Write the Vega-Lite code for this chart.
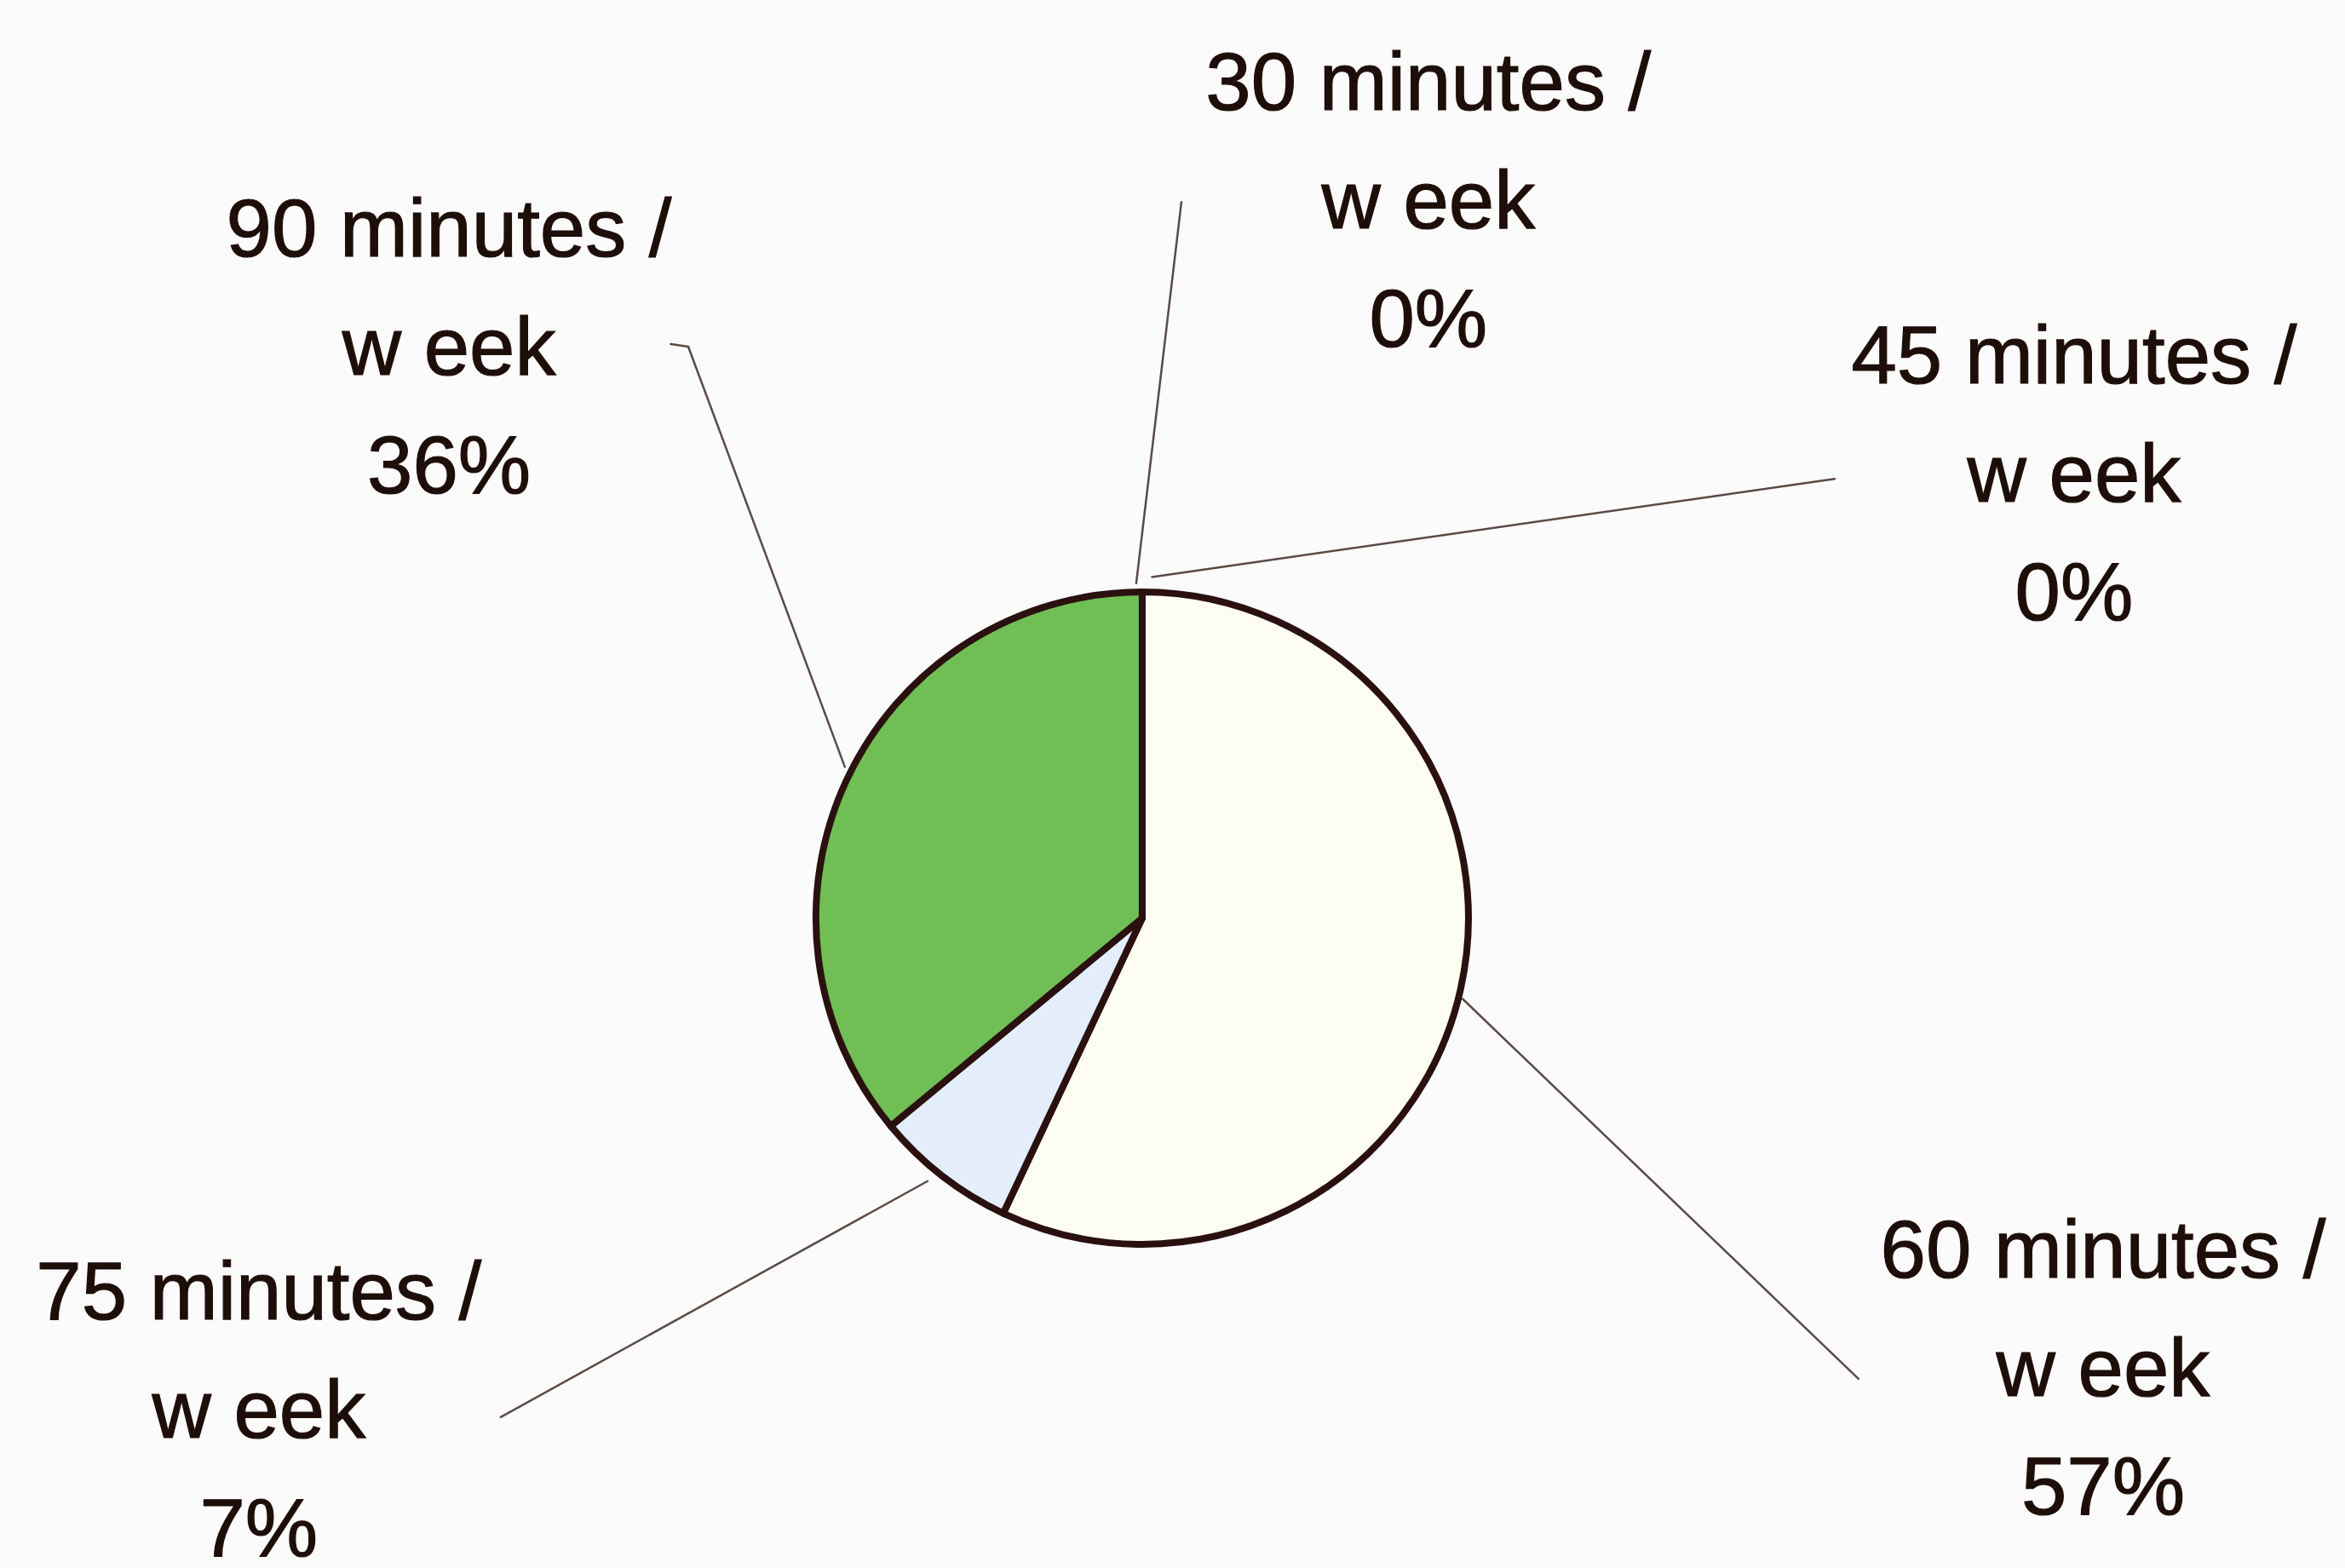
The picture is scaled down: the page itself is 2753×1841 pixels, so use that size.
{
  "$schema": "https://vega.github.io/schema/vega-lite/v6.json",
  "description": "Share of respondents by weekly exercise time, pie with callout labels.",
  "width": 2753,
  "height": 1841,
  "autosize": {"type": "none"},
  "padding": 0,
  "background": "#fbfbfb",
  "config": {"view": {"stroke": null}},
  "datasets": {
    "slices": [
      {"minutes": 30, "line1": "30 minutes /", "line2": "w eek", "pct": 0, "lx": 0.868, "ly": 2.527},
      {"minutes": 45, "line1": "45 minutes /", "line2": "w eek", "pct": 0, "lx": 2.827, "ly": 1.698},
      {"minutes": 60, "line1": "60 minutes /", "line2": "w eek", "pct": 57, "lx": 2.915, "ly": -1.016},
      {"minutes": 75, "line1": "75 minutes /", "line2": "w eek", "pct": 7, "lx": -2.68, "ly": -1.142},
      {"minutes": 90, "line1": "90 minutes /", "line2": "w eek", "pct": 36, "lx": -2.103, "ly": 2.083}
    ],
    "leaders": [
      {"minutes": 30, "x1": 0.119, "y1": 2.173, "x2": -0.018, "y2": 1.016},
      {"minutes": 45, "x1": 2.101, "y1": 1.333, "x2": 0.03, "y2": 1.035},
      {"minutes": 60, "x1": 0.972, "y1": -0.245, "x2": 2.173, "y2": -1.398},
      {"minutes": 75, "x1": -1.946, "y1": -1.514, "x2": -0.651, "y2": -0.798},
      {"minutes": 90, "x1": -1.377, "y1": 1.734, "x2": -0.902, "y2": 0.459},
      {"minutes": 90, "x1": -1.43, "y1": 1.742, "x2": -1.377, "y2": 1.734}
    ]
  },
  "layer": [
    {
      "data": {"name": "leaders"},
      "mark": {"type": "rule", "stroke": "#5b4a44", "strokeWidth": 2.5, "strokeCap": "round"},
      "encoding": {
        "x": {"field": "x1", "type": "quantitative", "scale": {"domain": [-3.465, 3.649], "nice": false, "zero": false}, "axis": null},
        "y": {"field": "y1", "type": "quantitative", "scale": {"domain": [-1.972, 2.786], "nice": false, "zero": false}, "axis": null},
        "x2": {"field": "x2"},
        "y2": {"field": "y2"}
      }
    },
    {
      "data": {"name": "slices"},
      "mark": {"type": "arc", "radius": 383, "stroke": "#2b1010", "strokeWidth": 8, "strokeJoin": "round"},
      "encoding": {
        "x": {"datum": 0, "type": "quantitative"},
        "y": {"datum": 0, "type": "quantitative"},
        "theta": {"field": "pct", "type": "quantitative", "stack": true},
        "order": {"field": "minutes", "type": "quantitative", "sort": "ascending"},
        "color": {
          "field": "minutes",
          "type": "nominal",
          "scale": {"domain": [30, 45, 60, 75, 90], "range": ["#f4f0e0", "#e9e9f2", "#fdfdf2", "#e3eefa", "#6fbf54"]},
          "legend": null
        }
      }
    },
    {
      "data": {"name": "slices"},
      "transform": [
        {"calculate": "[datum.line1, datum.line2, datum.pct + '%']", "as": "label"}
      ],
      "mark": {
        "type": "text",
        "font": "Liberation Sans",
        "fontSize": 96,
        "lineHeight": 139,
        "align": "center",
        "baseline": "middle",
        "color": "#1e0e09",
        "stroke": "#1e0e09",
        "strokeWidth": 1.2
      },
      "encoding": {
        "x": {"field": "lx", "type": "quantitative"},
        "y": {"field": "ly", "type": "quantitative"},
        "text": {"field": "label"}
      }
    }
  ]
}
